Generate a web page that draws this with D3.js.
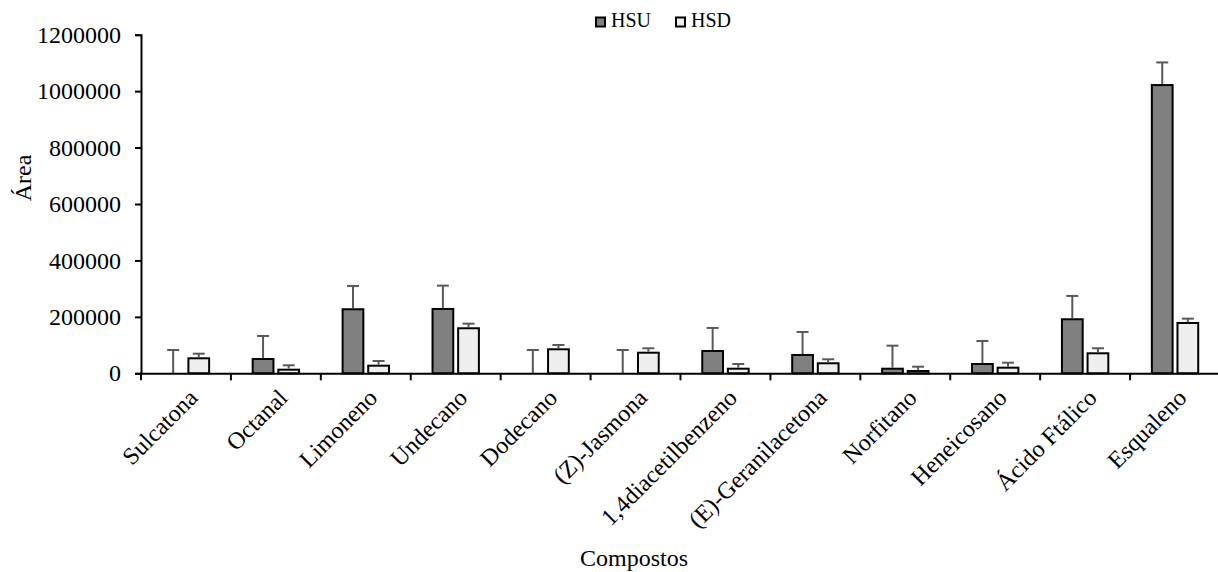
<!DOCTYPE html>
<html>
<head>
<meta charset="utf-8">
<script src="https://cdn.jsdelivr.net/npm/d3@7"></script>
<style>
  body { margin: 0; background: #fff; }
  svg text { font-family: "Liberation Serif", "Times New Roman", serif; fill: #000; }
</style>
</head>
<body>
<div class="chart"></div>
<script>
// compostos e áreas
var categories = ['Sulcatona', 'Octanal', 'Limoneno', 'Undecano', 'Dodecano', '(Z)-Jasmona',
  '1,4diacetilbenzeno', '(E)-Geranilacetona', 'Norfitano', 'Heneicosano', 'Ácido Ftálico', 'Esqualeno'];
var seriesNames = ['HSU', 'HSD'];
var hsu = [0, 50700, 227000, 228000, 0, 0, 79100, 64900, 16300, 33000, 191500, 1021500];
var hsuErr = [82600, 81600, 82600, 82700, 82600, 82600, 81600, 81600, 81600, 81600, 82700, 80200];
var hsd = [53200, 12800, 27000, 159600, 85100, 73000, 16300, 35500, 8200, 19900, 70900, 178400];
var hsdErr = [16300, 15600, 16600, 16300, 15300, 15700, 16700, 14200, 15200, 17700, 17800, 15300];
var yTicks = [0, 200000, 400000, 600000, 800000, 1000000, 1200000];

var svg_width = 1218,
    svg_height = 572,
    svg = d3.select('.chart').append('svg').attr('width', svg_width).attr('height', svg_height),
    margin = {top: 34.7, right: -2, bottom: 198.7, left: 141},
    width = svg_width - margin.left - margin.right,
    height = svg_height - margin.top - margin.bottom;

var colors = {HSU: '#808080', HSD: '#eeeeee'};

var data = categories.map(function(c, i) {
  return {k: c, values: [
    {s: 'HSU', v: hsu[i], e: hsuErr[i]},
    {s: 'HSD', v: hsd[i], e: hsdErr[i]}
  ]};
});

var g = svg.append('g').attr('transform', 'translate(' + margin.left + ',' + margin.top + ')');

var x = d3.scaleBand().domain(categories).range([0, width]).padding(0);
var x1 = d3.scaleBand().domain(seriesNames).range([0, x.bandwidth()]).paddingInner(0.19).paddingOuter(0.85);
var y = d3.scaleLinear().domain([0, 1200000]).range([height, 0]);

// eixo y
var yAxis = g.append('g').attr('class', 'axis axis-y')
  .call(d3.axisLeft(y).tickValues(yTicks).tickSize(6).tickPadding(14).tickFormat(d3.format('d')));
yAxis.selectAll('text').style('font-size', '24px');
yAxis.select('.domain').attr('stroke-width', 2);
yAxis.selectAll('.tick line').attr('stroke-width', 2);

// barras
var groups = g.selectAll('.grupo').data(data).enter().append('g')
  .attr('class', 'grupo')
  .attr('transform', function(d) { return 'translate(' + x(d.k) + ',0)'; });

groups.selectAll('.bar').data(function(d) { return d.values.filter(function(v) { return v.v > 0; }); })
  .enter().append('rect')
  .attr('class', 'bar')
  .attr('x', function(d) { return x1(d.s); })
  .attr('y', function(d) { return y(d.v); })
  .attr('width', x1.bandwidth())
  .attr('height', function(d) { return height - y(d.v); })
  .attr('fill', function(d) { return colors[d.s]; })
  .attr('stroke', '#000')
  .attr('stroke-width', 2);

// barras de erro
var err = groups.selectAll('.erro').data(function(d) { return d.values; })
  .enter().append('g').attr('class', 'erro')
  .attr('stroke', '#595959').attr('stroke-width', 2);
err.append('line')
  .attr('x1', function(d) { return x1(d.s) + x1.bandwidth() / 2; })
  .attr('x2', function(d) { return x1(d.s) + x1.bandwidth() / 2; })
  .attr('y1', function(d) { return y(d.v) - (d.v > 0 ? 1 : 0); })
  .attr('y2', function(d) { return y(d.v + d.e); });
err.append('line')
  .attr('x1', function(d) { return x1(d.s) + x1.bandwidth() / 2 - 6; })
  .attr('x2', function(d) { return x1(d.s) + x1.bandwidth() / 2 + 6; })
  .attr('y1', function(d) { return y(d.v + d.e); })
  .attr('y2', function(d) { return y(d.v + d.e); });

// eixo x
var xAxis = g.append('g').attr('class', 'axis axis-x')
  .attr('transform', 'translate(0,' + height + ')')
  .call(d3.axisBottom(x).tickSize(0).tickFormat(''));
xAxis.select('.domain').attr('stroke-width', 2);
xAxis.selectAll('.tick').remove();

var bounds = x.domain().map(function(d) { return x(d); }).concat([width]);
xAxis.selectAll('.sep').data(bounds).enter().append('line')
  .attr('x1', function(d) { return d; }).attr('x2', function(d) { return d; })
  .attr('y1', 0).attr('y2', 7)
  .attr('stroke', '#000').attr('stroke-width', 2);

xAxis.selectAll('.lbl').data(categories).enter().append('text')
  .attr('class', 'lbl')
  .attr('text-anchor', 'end')
  .style('font-size', '24px')
  .attr('transform', function(d) {
    return 'translate(' + (x(d) + x.bandwidth() / 2 + 13) + ',' + 26 + ') rotate(-45)';
  })
  .text(function(d) { return d; });

// títulos
svg.append('text')
  .attr('text-anchor', 'middle')
  .style('font-size', '24px')
  .attr('x', 634).attr('y', 566)
  .text('Compostos');

svg.append('text')
  .attr('text-anchor', 'middle')
  .style('font-size', '24px')
  .attr('transform', 'translate(31,178) rotate(-90)')
  .text('Área');

// legenda
var legend = svg.append('g').attr('class', 'legend');
var lx = [596, 676];
seriesNames.forEach(function(s, i) {
  legend.append('rect')
    .attr('x', lx[i]).attr('y', 17.5).attr('width', 9).attr('height', 9)
    .attr('fill', colors[s]).attr('stroke', '#000').attr('stroke-width', 2);
  legend.append('text')
    .attr('x', lx[i] + 15).attr('y', 27)
    .style('font-size', '20px')
    .text(s);
});
</script>
</body>
</html>
